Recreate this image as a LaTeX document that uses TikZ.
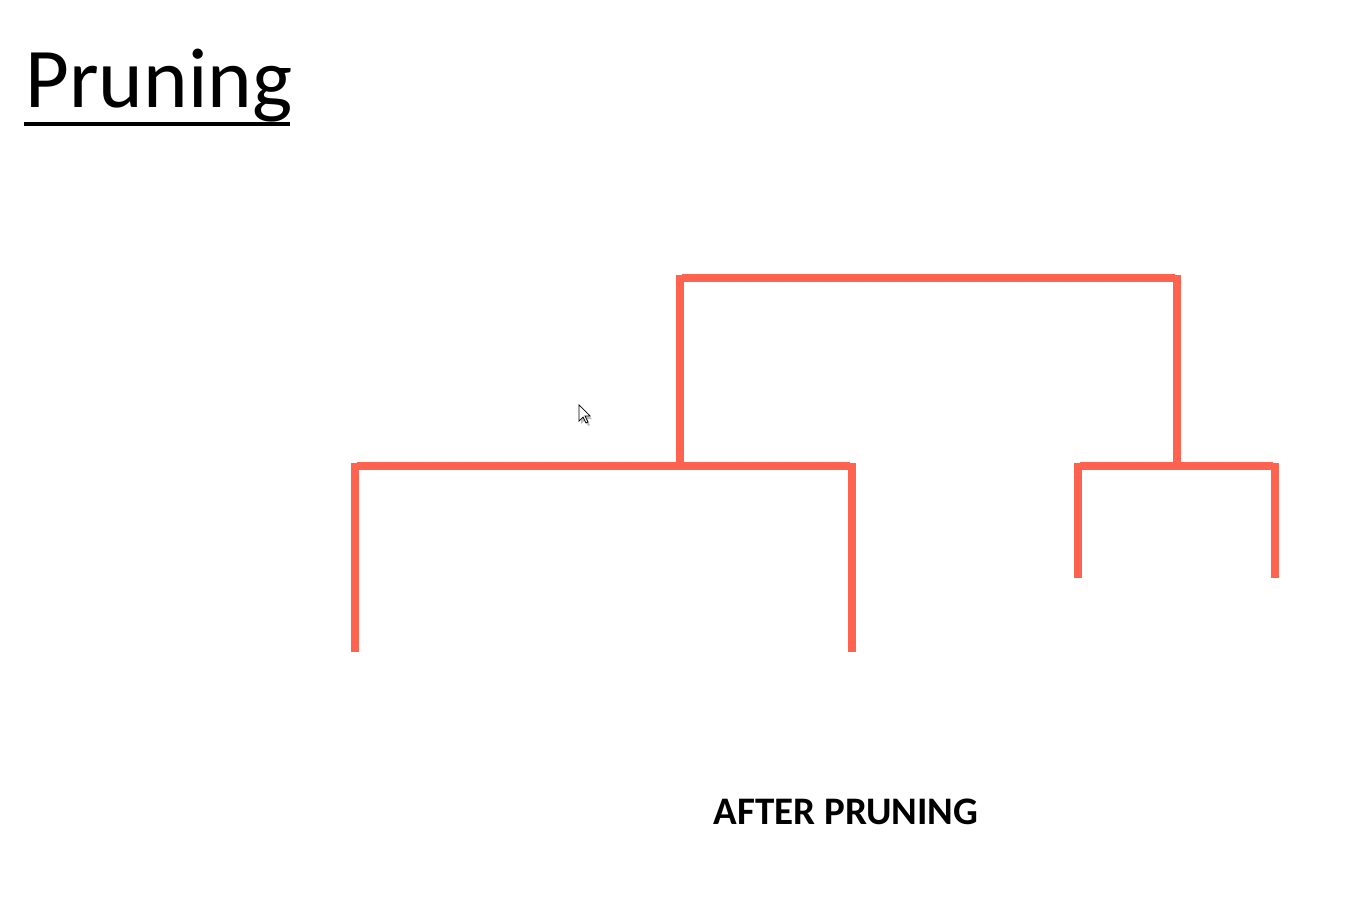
\documentclass[tikz,border=0pt]{standalone}
\usepackage{fontspec}
\setmainfont{Carlito}
\definecolor{branch}{RGB}{255,99,80}
\begin{document}
\begin{tikzpicture}[x=1pt,y=-1pt,
  br/.style={draw=branch,line width=8.5pt},
  title/.style={font=\fontsize{85}{85}\selectfont,inner sep=0pt,anchor=base west},
  caption/.style={font=\fontsize{39}{39}\selectfont\bfseries,inner sep=0pt,anchor=base}]
\useasboundingbox (0,0) rectangle (1354,901);
% title
\node[title] (ttl) at (25,108) {Pruning};
\draw[line width=3.5pt] (24,124) -- (290,124);
% coordinates
\coordinate (tl) at (680,278);
\coordinate (tr) at (1177,278);
\coordinate (ml) at (680,466);
\coordinate (mr) at (1177,466);
\coordinate (al) at (355,466);
\coordinate (ar) at (852,466);
\coordinate (al2) at (355,652);
\coordinate (ar2) at (852,652);
\coordinate (bl) at (1078,466);
\coordinate (brr) at (1275,466);
\coordinate (bl2) at (1078,578);
\coordinate (br2) at (1275,578);
% top link
\draw[br] ([xshift=2pt]tl) -- ([xshift=-2pt]tr);
\draw[br] ([yshift=3pt]tl) -- ([yshift=-3pt]ml);
\draw[br] ([yshift=3pt]tr) -- ([yshift=-3pt]mr);
% left link
\draw[br] ([xshift=2pt]al) -- ([xshift=-2pt]ar);
\draw[br] ([yshift=3pt]al) -- (al2);
\draw[br] ([yshift=3pt]ar) -- (ar2);
% right link
\draw[br] ([xshift=2pt]bl) -- ([xshift=-2pt]brr);
\draw[br] ([yshift=3pt]bl) -- (bl2);
\draw[br] ([yshift=3pt]brr) -- (br2);
% cursor
\fill[black!25] (581,408) -- (581,424) -- (585,420) -- (588,426) -- (590,425) -- (587,419) -- (592,419) -- cycle;
\draw[fill=white,line width=0.7pt,line join=miter] (579,405) -- (579,421) -- (583,417) -- (586,423) -- (588,422) -- (585,416) -- (590,416) -- cycle;
% caption
\node[caption] (cap) at (846,824) {AFTER PRUNING};
\end{tikzpicture}
\end{document}
